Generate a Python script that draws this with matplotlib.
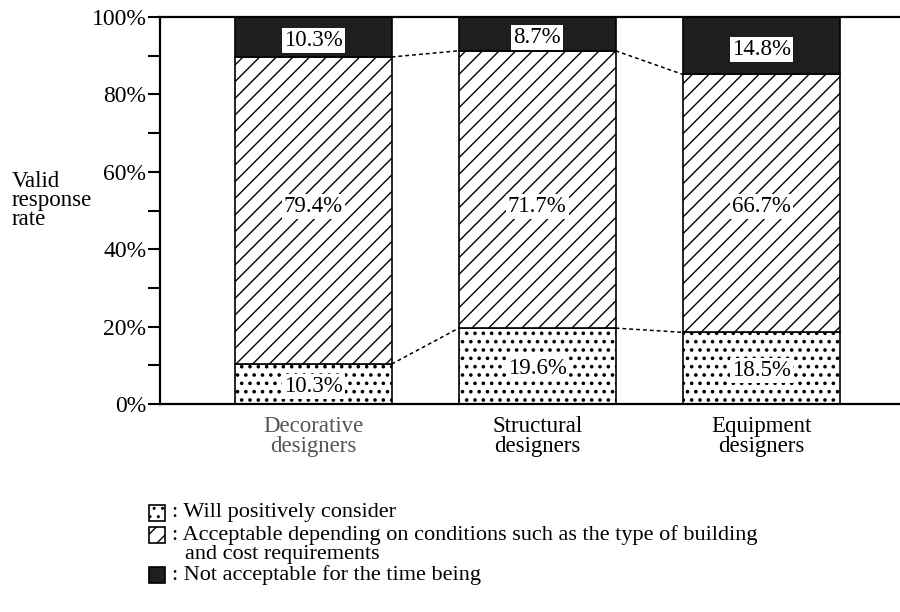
import numpy as np
import matplotlib
matplotlib.use("Agg")
import matplotlib.pyplot as plt
from matplotlib.patches import Rectangle

plt.rcParams['font.family'] = ['Liberation Serif', 'DejaVu Serif']
plt.rcParams['hatch.linewidth'] = 1.0

# data
groups = ["Decorative\ndesigners", "Structural\ndesigners", "Equipment\ndesigners"]
positive = [10.3, 19.6, 18.5]       # will positively consider
conditional = [79.4, 71.7, 66.7]    # acceptable depending on conditions
rejected = [10.3, 8.7, 14.8]        # not acceptable for the time being
legend_labels = [": Will positively consider",
                 ": Acceptable depending on conditions such as the type of building",
                 ": Not acceptable for the time being"]
legend_extra = "and cost requirements"

dark = '#1e1e1e'
W = 0.70
FS = 16.5
x = np.arange(len(groups))

fig = plt.figure(figsize=(9, 6.12), dpi=100)
ax = fig.add_axes([0.178, 0.340, 0.822, 0.632])

pos = np.array(positive)
cond = np.array(conditional)
rej = np.array(rejected)

# slightly heavier stroke so the dots read like the printed stipple
with plt.rc_context({'hatch.linewidth': 1.4}):
    ax.bar(x, pos, W, color='white', edgecolor='black', hatch='..', lw=1.2)
ax.bar(x, cond, W, bottom=pos, color='white', edgecolor='black', hatch='//', lw=1.2)
ax.bar(x, rej, W, bottom=pos + cond, color=dark, edgecolor='black', lw=1.2)

# dashed connectors between bars
for i in range(len(x) - 1):
    for lv in (pos, pos + cond):
        ax.plot([x[i] + W / 2, x[i + 1] - W / 2], [lv[i], lv[i + 1]],
                ls=(0, (2.5, 2)), color='black', lw=1.1)

box = dict(facecolor='white', edgecolor='none', pad=1.5)
for i in range(len(x)):
    ax.text(x[i], pos[i] / 2 - 0.6, f"{pos[i]:.1f}%", ha='center', va='center',
            fontsize=FS, bbox=box)
    ax.text(x[i], 51, f"{cond[i]:.1f}%", ha='center', va='center',
            fontsize=FS, bbox=box)
    ax.text(x[i], pos[i] + cond[i] + rej[i] / 2 - 1.0, f"{rej[i]:.1f}%",
            ha='center', va='center', fontsize=FS, bbox=box)

ax.set_xlim(-0.683, 2.62)
ax.set_ylim(0, 100)
ax.set_yticks(np.arange(0, 101, 20))
ax.set_yticks(np.arange(10, 100, 20), minor=True)
ax.set_yticklabels([f"{v}%" for v in range(0, 101, 20)], fontsize=17)
ax.tick_params(axis='y', which='both', direction='out', length=9, width=1.5, pad=1)
ax.set_xticks(x)
ax.set_xticklabels(groups, fontsize=FS, linespacing=0.9)
ax.tick_params(axis='x', length=0, pad=9)
ax.get_xticklabels()[0].set_color('#555555')

for s in ['left', 'top', 'bottom']:
    ax.spines[s].set_linewidth(1.6)
ax.spines['right'].set_visible(False)

fig.text(0.013, 0.672, "Valid\nresponse\nrate", fontsize=16.5, ha='left', va='center',
         linespacing=0.86)

# legend drawn below the chart
key_y = [513, 535, 575]
styles = [dict(facecolor='white', hatch='..'),
          dict(facecolor='white', hatch='//'),
          dict(facecolor=dark, hatch=None)]
for ky, st, lab in zip(key_y, styles, legend_labels):
    fig.add_artist(Rectangle((149 / 900, 1 - (ky + 8) / 612), 16 / 900, 16 / 612,
                             transform=fig.transFigure, edgecolor='black', lw=1.2, **st))
    fig.text(172 / 900, 1 - ky / 612, lab, fontsize=16, ha='left', va='center')
fig.text(185 / 900, 1 - 555 / 612, legend_extra, fontsize=16, ha='left', va='center')

fig.savefig('out.png', dpi=100)
